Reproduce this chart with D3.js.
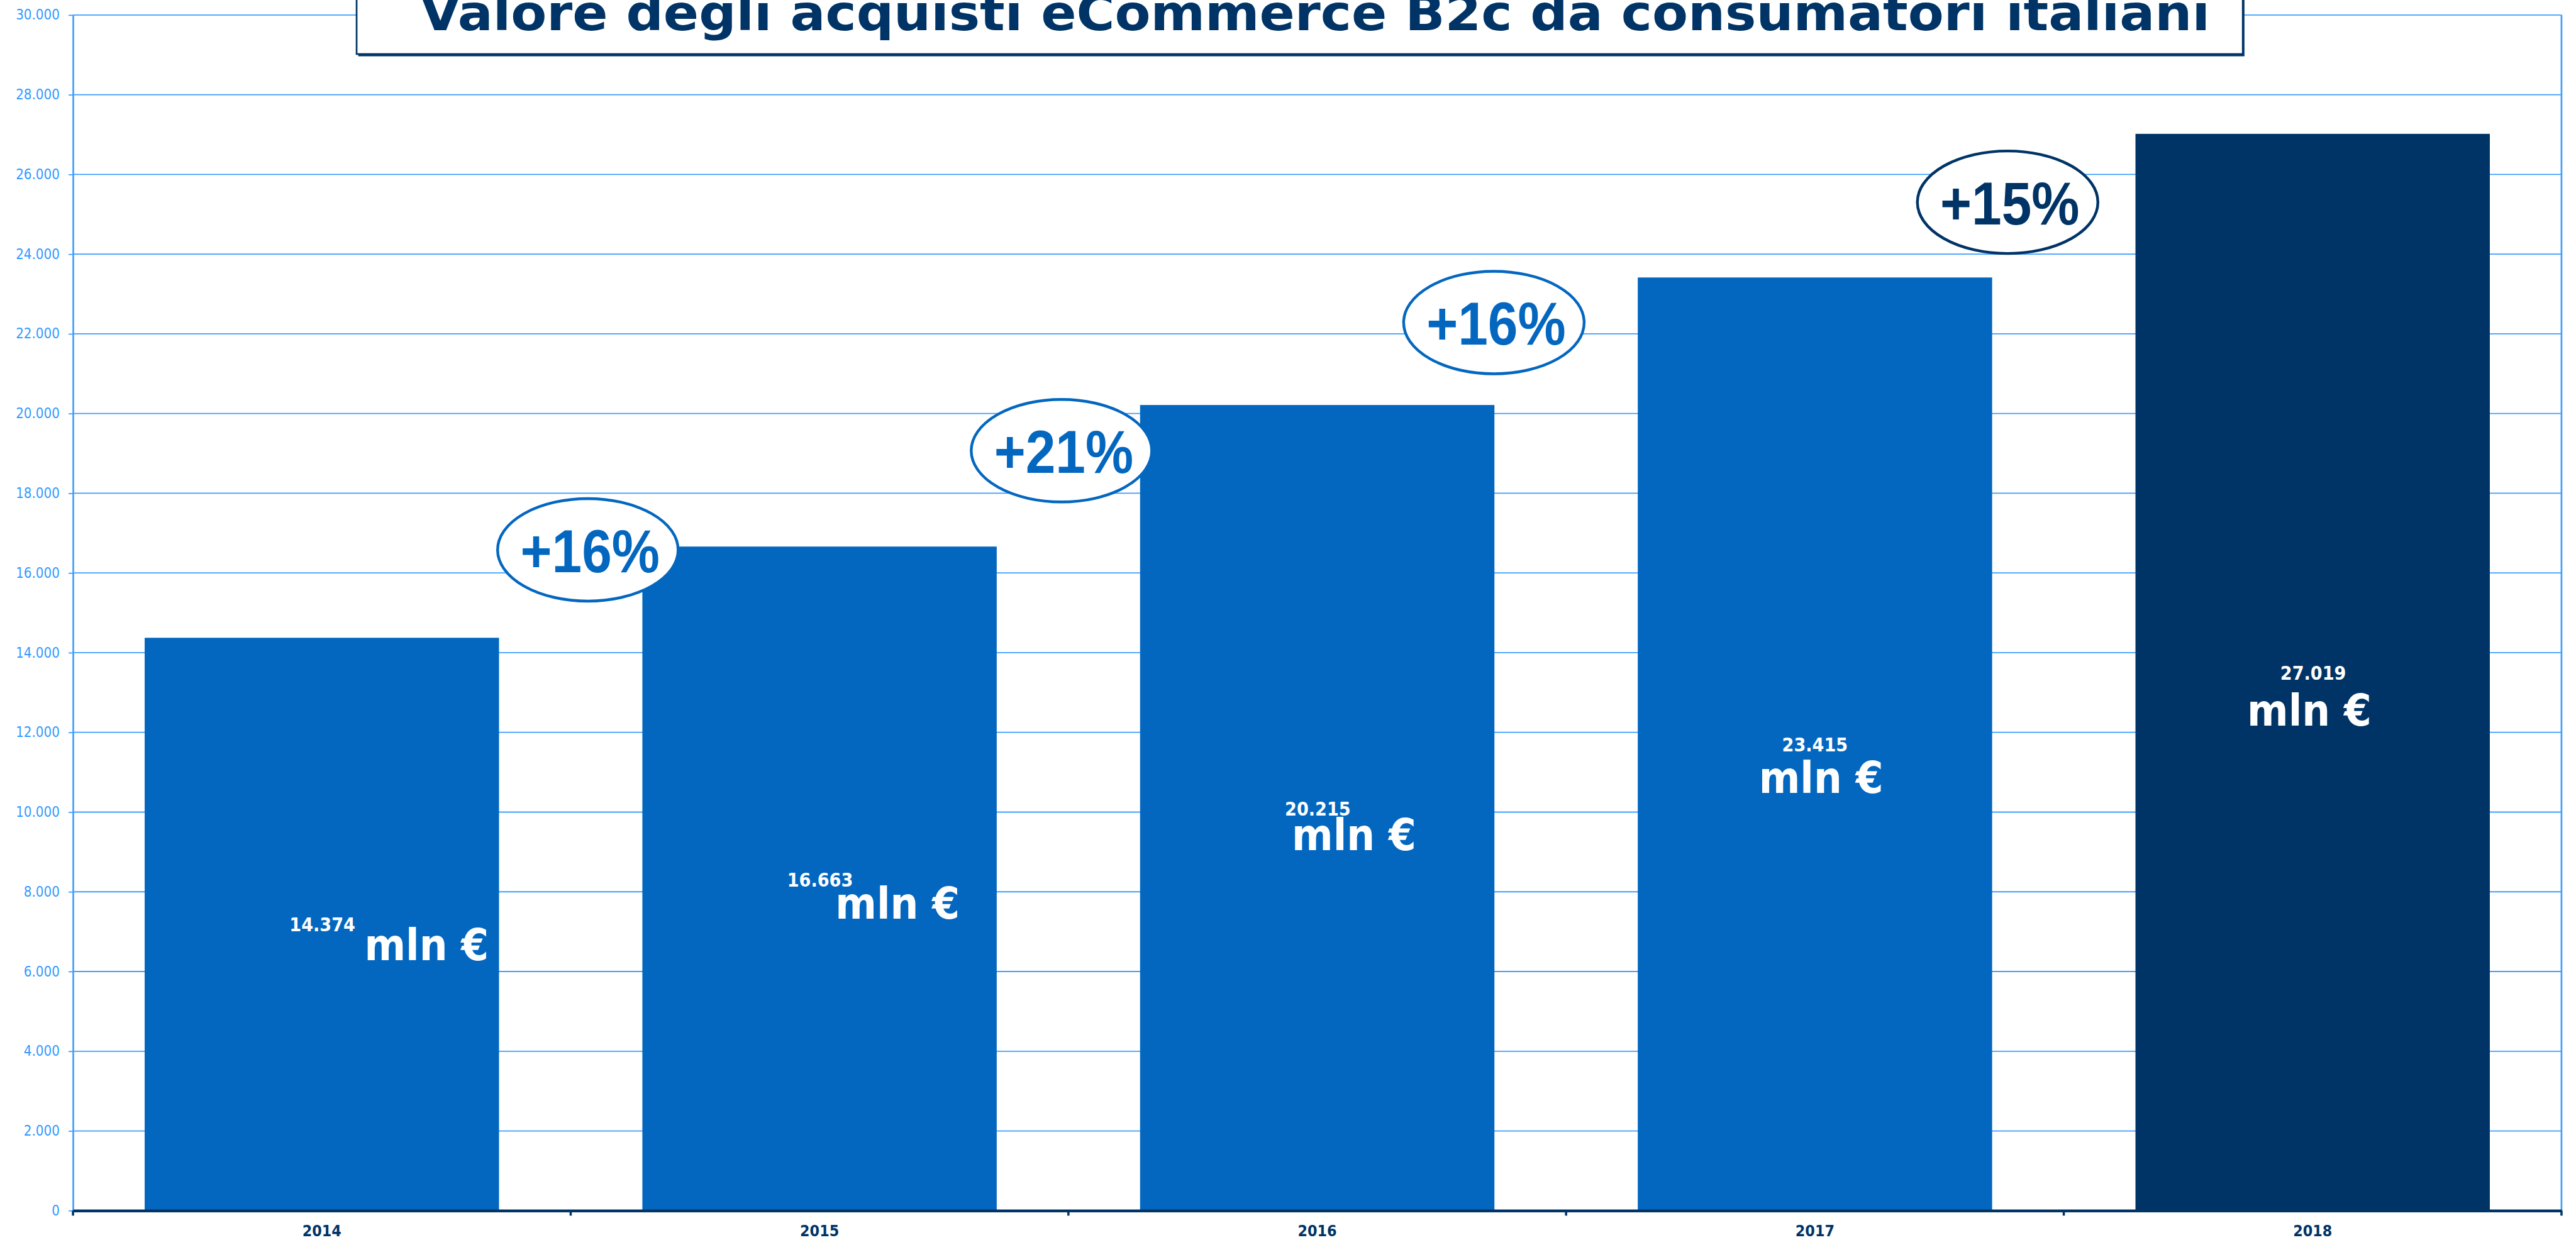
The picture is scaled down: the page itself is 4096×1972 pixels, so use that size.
<!DOCTYPE html>
<html>
<head>
<meta charset="utf-8">
<script src="https://cdn.jsdelivr.net/npm/d3@7"></script>
<style>
  html, body { margin: 0; padding: 0; background: #fff; }
  svg { display: block; }
</style>
</head>
<body>
<div id="chart"></div>
<script>
// data
var years = ["2014", "2015", "2016", "2017", "2018"];
var values = [14374, 16663, 20215, 23415, 27019];
var growth = ["+16%", "+21%", "+16%", "+15%"];
var yTicks = [0, 2000, 4000, 6000, 8000, 10000, 12000, 14000, 16000, 18000, 20000, 22000, 24000, 26000, 28000, 30000];
var title = "Valore degli acquisti eCommerce B2c da consumatori italiani";

// layout, in reference pixels (drawn at 0.886)
var S = 0.886;
var W = 4096, H = 1972;
var plot = {left: 131, right: 4597, top: 27, bottom: 2173};

// label offsets inside each bar: small number dx / baseline, "mln €" dx / baseline
var labelPos = [
  {dx: 1, y: 1672, mdx: 188, my: 1723},
  {dx: 1, y: 1591, mdx: 140, my: 1649},
  {dx: 1, y: 1464, mdx: 66, my: 1526},
  {dx: 0, y: 1349, mdx: 11, my: 1423},
  {dx: 1, y: 1220, mdx: -6, my: 1302}
];
// growth bubbles
var bubblePos = [
  {cx: 1055, cy: 987},
  {cx: 1905, cy: 809},
  {cx: 2681, cy: 579},
  {cx: 3603, cy: 363}
];

var blue = "#0367c0", navy = "#003466", grid = "#3d9dfd", tickBlue = "#3399ff";

var it = d3.formatLocale({decimal: ",", thousands: ".", grouping: [3], currency: ["", " €"]});
var fmt = it.format(",");

var svg = d3.select("#chart").append("svg")
    .attr("width", W)
    .attr("height", H);

svg.append("rect").attr("width", W).attr("height", H).attr("fill", "#fff");

var g = svg.append("g").attr("transform", "scale(" + S + ")");

var x = d3.scaleBand()
    .domain(years)
    .range([plot.left, plot.right])
    .paddingInner(0.288)
    .paddingOuter(0.144);

var y = d3.scaleLinear()
    .domain([0, 30000])
    .range([plot.bottom, plot.top]);

// gridlines
g.append("g")
  .selectAll("line")
  .data(yTicks.filter(function(d) { return d > 0; }))
  .enter().append("line")
    .attr("x1", plot.left)
    .attr("x2", plot.right)
    .attr("y1", function(d) { return y(d); })
    .attr("y2", function(d) { return y(d); })
    .attr("stroke", grid)
    .attr("stroke-width", 2);

// right border
g.append("line")
    .attr("x1", plot.right).attr("x2", plot.right)
    .attr("y1", plot.top).attr("y2", plot.bottom)
    .attr("stroke", grid)
    .attr("stroke-width", 3);

// y axis
var yAxis = d3.axisLeft(y)
    .tickValues(yTicks)
    .tickSize(8)
    .tickSizeOuter(0)
    .tickPadding(16)
    .tickFormat(function(d) { return fmt(d); });

var ya = g.append("g")
    .attr("transform", "translate(" + plot.left + ",0)")
    .call(yAxis);
ya.select(".domain").attr("stroke", grid).attr("stroke-width", 3);
ya.selectAll(".tick line").attr("stroke", grid).attr("stroke-width", 2);
ya.selectAll(".tick text")
    .attr("fill", tickBlue)
    .style("font-family", "'DejaVu Sans Condensed', 'DejaVu Sans', sans-serif")
    .style("font-size", "25px");

// bars
g.append("g")
  .selectAll("rect")
  .data(values)
  .enter().append("rect")
    .attr("x", function(d, i) { return x(years[i]); })
    .attr("y", function(d) { return y(d); })
    .attr("width", x.bandwidth())
    .attr("height", function(d) { return y(0) - y(d); })
    .attr("fill", function(d, i) { return i == values.length - 1 ? navy : blue; });

// x axis
var xAxis = d3.axisBottom(x).tickSize(0).tickPadding(26);
var xa = g.append("g")
    .attr("transform", "translate(0," + plot.bottom + ")")
    .call(xAxis);
xa.select(".domain").attr("stroke", navy).attr("stroke-width", 5);
xa.selectAll(".tick text")
    .attr("fill", navy)
    .style("font-family", "'DejaVu Sans Condensed', 'DejaVu Sans', sans-serif")
    .style("font-weight", "bold")
    .style("font-size", "28px");

// tick marks on band boundaries
var bounds = years.map(function(d) { return x(d) - x.step() * x.paddingInner() / 2; });
bounds.push(plot.right);
xa.selectAll(".bound")
  .data(bounds)
  .enter().append("line")
    .attr("class", "bound")
    .attr("x1", function(d) { return d; })
    .attr("x2", function(d) { return d; })
    .attr("y1", 0)
    .attr("y2", 9)
    .attr("stroke", navy)
    .attr("stroke-width", 4);

// value labels
var labels = g.append("g")
    .style("font-family", "'DejaVu Sans Condensed', 'DejaVu Sans', sans-serif")
    .style("font-weight", "bold")
    .attr("fill", "#fff")
    .attr("text-anchor", "middle");

labels.selectAll(".num")
  .data(values)
  .enter().append("text")
    .attr("class", "num")
    .attr("x", function(d, i) { return x(years[i]) + x.bandwidth() / 2 + labelPos[i].dx; })
    .attr("y", function(d, i) { return labelPos[i].y; })
    .style("font-size", "34px")
    .text(function(d) { return fmt(d); });

labels.selectAll(".unit")
  .data(values)
  .enter().append("text")
    .attr("class", "unit")
    .attr("x", function(d, i) { return x(years[i]) + x.bandwidth() / 2 + labelPos[i].mdx; })
    .attr("y", function(d, i) { return labelPos[i].my; })
    .style("font-size", "79px")
    .text("mln €");

// growth bubbles
var bubbles = g.append("g")
  .selectAll("g")
  .data(growth)
  .enter().append("g")
    .attr("transform", function(d, i) { return "translate(" + bubblePos[i].cx + "," + bubblePos[i].cy + ")"; });

bubbles.append("ellipse")
    .attr("rx", 162)
    .attr("ry", 92)
    .attr("fill", "#fff")
    .attr("stroke", function(d, i) { return i == growth.length - 1 ? navy : blue; })
    .attr("stroke-width", 5);

bubbles.append("text")
    .attr("x", 4)
    .attr("y", 40)
    .attr("text-anchor", "middle")
    .attr("textLength", 250)
    .attr("lengthAdjust", "spacingAndGlyphs")
    .attr("fill", function(d, i) { return i == growth.length - 1 ? navy : blue; })
    .style("font-family", "'Liberation Sans', Arial, sans-serif")
    .style("font-weight", "bold")
    .style("font-size", "109px")
    .text(function(d) { return d; });

// title box, pushed up past the top edge
var tb = g.append("g");
tb.append("rect")
    .attr("x", 643).attr("y", -40)
    .attr("width", 3385).attr("height", 141)
    .attr("fill", navy);
tb.append("rect")
    .attr("x", 640).attr("y", -40)
    .attr("width", 3385).attr("height", 137)
    .attr("fill", "#fff")
    .attr("stroke", navy)
    .attr("stroke-width", 3);
tb.append("text")
    .attr("x", 2360)
    .attr("y", 54)
    .attr("text-anchor", "middle")
    .attr("textLength", 3212)
    .attr("lengthAdjust", "spacingAndGlyphs")
    .attr("fill", navy)
    .style("font-family", "'DejaVu Sans', sans-serif")
    .style("font-weight", "bold")
    .style("font-size", "88px")
    .text(title);
</script>
</body>
</html>
